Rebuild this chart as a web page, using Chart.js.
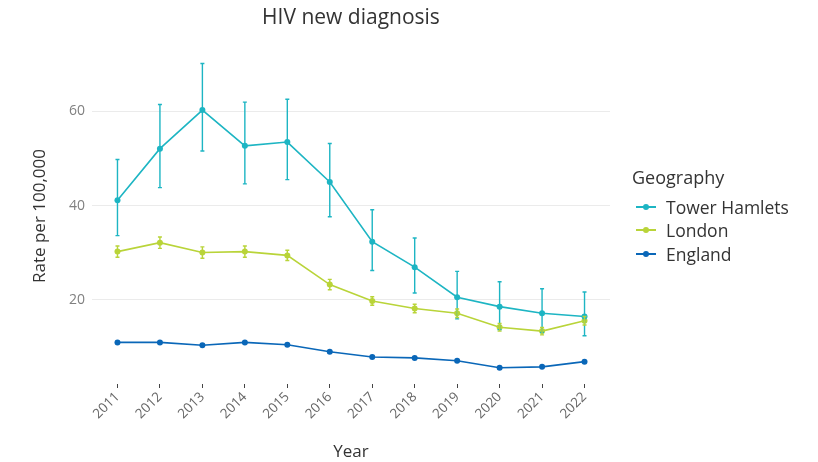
<!DOCTYPE html>
<html lang="en">
<head>
<meta charset="UTF-8">
<title>HIV new diagnosis</title>
<script src="https://cdn.jsdelivr.net/npm/chart.js"></script>
<style>
    html, body {
        margin: 0;
        padding: 0;
        background: #fff;
    }
    .wrap {
        position: relative;
        width: 818px;
        height: 462px;
        font-family: "Open Sans", "Lato", sans-serif;
    }
    .titulo {
        position: absolute;
        left: 0;
        top: 2px;
        width: 702px;
        text-align: center;
        font-size: 21px;
        line-height: 28px;
        color: #333;
    }
    .legend {
        position: absolute;
        left: 632px;
        top: 164px;
        color: #333;
    }
    .legend .title {
        font-size: 18px;
        height: 26px;
        line-height: 26px;
        margin-bottom: 5px;
    }
    .legend .item {
        display: flex;
        align-items: center;
        height: 23.5px;
        font-size: 17.5px;
    }
    .legend .key {
        position: relative;
        width: 20px;
        height: 2px;
        margin: 0 10px 0 4px;
    }
    .legend .key span {
        position: absolute;
        left: 7px;
        top: -2px;
        width: 6px;
        height: 6px;
        border-radius: 50%;
    }
</style>
</head>
<body>
<div class="wrap">
    <canvas id="grafica" width="818" height="462"></canvas>
    <div class="titulo">HIV new diagnosis</div>
    <div class="legend" id="leyenda">
        <div class="title">Geography</div>
    </div>
</div>

<script>
    const years = [2011, 2012, 2013, 2014, 2015, 2016, 2017, 2018, 2019, 2020, 2021, 2022];
    const yTicks = [20, 40, 60];

    const towerHamlets = [41.1, 52.1, 60.3, 52.7, 53.5, 45.0, 32.3, 26.9, 20.5, 18.5, 17.1, 16.4];
    const towerHamletsLow = [33.6, 43.8, 51.6, 44.6, 45.5, 37.6, 26.2, 21.4, 15.9, 13.6, 13.0, 12.3];
    const towerHamletsHigh = [49.8, 61.5, 70.2, 62.0, 62.6, 53.2, 39.1, 33.1, 26.0, 23.8, 22.3, 21.6];

    const london = [30.2, 32.1, 30.0, 30.2, 29.4, 23.2, 19.7, 18.1, 17.1, 14.1, 13.3, 15.5];
    const londonLow = [29.0, 30.9, 28.8, 29.0, 28.3, 22.1, 18.8, 17.2, 16.2, 13.3, 12.5, 14.6];
    const londonHigh = [31.4, 33.3, 31.2, 31.4, 30.5, 24.3, 20.6, 19.0, 18.0, 14.9, 14.1, 16.4];

    const england = [10.9, 10.9, 10.3, 10.9, 10.4, 8.9, 7.8, 7.6, 7.0, 5.5, 5.7, 6.8];
    const englandLow = [10.7, 10.7, 10.1, 10.7, 10.2, 8.7, 7.6, 7.4, 6.8, 5.3, 5.5, 6.6];
    const englandHigh = [11.1, 11.1, 10.5, 11.1, 10.6, 9.1, 8.0, 7.8, 7.2, 5.7, 5.9, 7.0];

    const series = [
        { nombre: 'Tower Hamlets', valores: towerHamlets, bajo: towerHamletsLow, alto: towerHamletsHigh, color: '#1db5c3' },
        { nombre: 'London', valores: london, bajo: londonLow, alto: londonHigh, color: '#b9d439' },
        { nombre: 'England', valores: england, bajo: englandLow, alto: englandHigh, color: '#0a67b8' }
    ];

    // barras de error dibujadas con las escalas del grafico
    const errorBars = {
        id: 'errorBars',
        afterDatasetsDraw(chart) {
            const ctx = chart.ctx;
            const x = chart.scales.x;
            const y = chart.scales.y;
            ctx.save();
            chart.data.datasets.forEach(ds => {
                ctx.strokeStyle = ds.borderColor;
                ctx.lineWidth = 1.4;
                ds.data.forEach(p => {
                    const px = x.getPixelForValue(p.x);
                    const top = y.getPixelForValue(p.hi);
                    const bot = y.getPixelForValue(p.lo);
                    ctx.beginPath();
                    ctx.moveTo(px, top);
                    ctx.lineTo(px, bot);
                    ctx.moveTo(px - 2, top);
                    ctx.lineTo(px + 2, top);
                    ctx.moveTo(px - 2, bot);
                    ctx.lineTo(px + 2, bot);
                    ctx.stroke();
                });
            });
            ctx.restore();
        }
    };

    const datasets = series.map(s => ({
        label: s.nombre,
        data: years.map((yr, i) => ({ x: yr, y: s.valores[i], lo: s.bajo[i], hi: s.alto[i] })),
        borderColor: s.color,
        backgroundColor: s.color,
        borderWidth: 1.6,
        pointRadius: 3,
        pointBorderWidth: 0,
        tension: 0
    }));

    const font = "'Open Sans', 'Lato', sans-serif";

    new Chart(document.getElementById('grafica').getContext('2d'), {
        type: 'line',
        data: { datasets: datasets },
        plugins: [errorBars],
        options: {
            responsive: false,
            animation: false,
            layout: { padding: { left: 0, right: 208, top: 48, bottom: 0 } },
            scales: {
                x: {
                    type: 'linear',
                    min: 2010.4,
                    max: 2022.6,
                    afterBuildTicks: scale => { scale.ticks = years.map(v => ({ value: v })); },
                    afterFit: scale => { scale.height = 78; },
                    grid: {
                        drawOnChartArea: false,
                        drawTicks: true,
                        tickLength: 4,
                        tickColor: '#444',
                        tickWidth: 1
                    },
                    border: { display: false },
                    ticks: {
                        minRotation: 45,
                        maxRotation: 45,
                        padding: 1,
                        color: '#666',
                        font: { family: font, size: 13.5 },
                        callback: v => String(v)
                    },
                    title: {
                        display: true,
                        text: 'Year',
                        color: '#333',
                        font: { family: font, size: 17 },
                        padding: { top: 0, bottom: 0 }
                    }
                },
                y: {
                    min: 2.05,
                    max: 73.5,
                    afterBuildTicks: scale => { scale.ticks = yTicks.map(v => ({ value: v })); },
                    afterFit: scale => { scale.width = 92; },
                    grid: {
                        color: '#ebebeb',
                        lineWidth: 1,
                        drawTicks: false
                    },
                    border: { display: false },
                    ticks: {
                        padding: 7,
                        color: '#808080',
                        font: { family: font, size: 14 }
                    },
                    title: {
                        display: true,
                        text: 'Rate per 100,000',
                        color: '#333',
                        font: { family: font, size: 17 },
                        padding: { top: 30, bottom: 0 }
                    }
                }
            },
            plugins: {
                legend: { display: false },
                tooltip: { enabled: false },
                title: { display: false }
            }
        }
    });

    // leyenda
    const leyenda = document.getElementById('leyenda');
    series.forEach(s => {
        const item = document.createElement('div');
        item.className = 'item';
        item.innerHTML = '<div class="key" style="background:' + s.color + '"><span style="background:' + s.color + '"></span></div>' + s.nombre;
        leyenda.appendChild(item);
    });
</script>
</body>
</html>
